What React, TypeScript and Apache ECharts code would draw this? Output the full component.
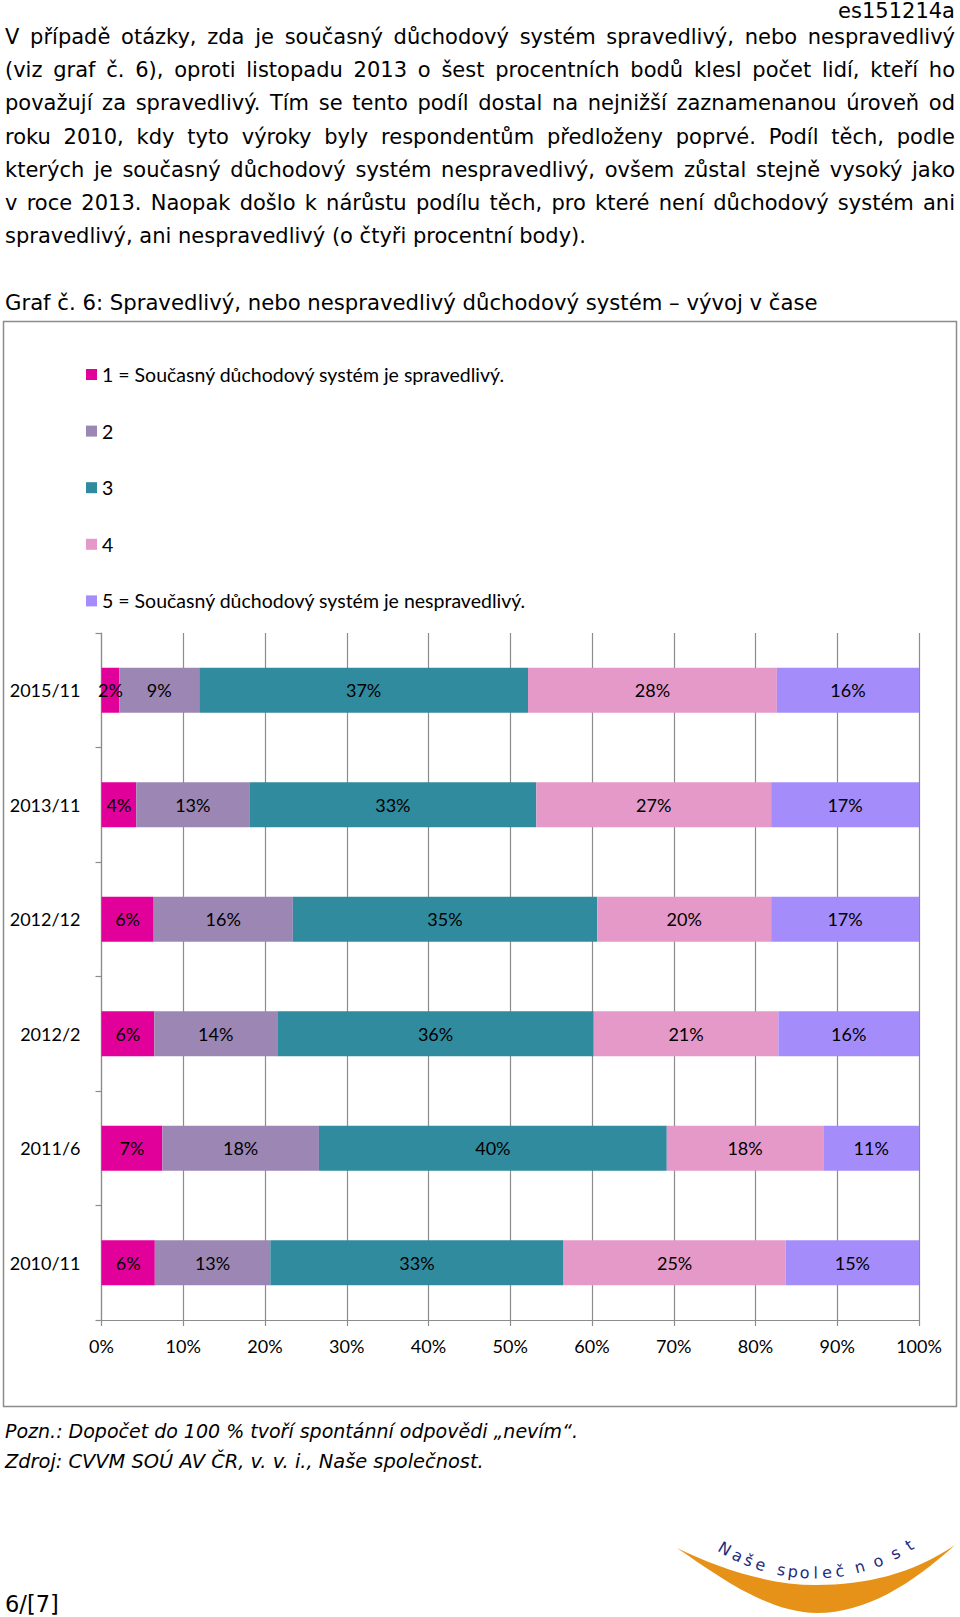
import React, { useEffect, useRef } from "react";
import * as echarts from "echarts";

// ---------- DATA ----------
const categories = ["2015/11", "2013/11", "2012/12", "2012/2", "2011/6", "2010/11"];
const seriesNames = [
  "1 = Současný důchodový systém je spravedlivý.",
  "2",
  "3",
  "4",
  "5 = Současný důchodový systém je nespravedlivý.",
];
const answer1 = [2, 4, 6, 6, 7, 6];
const answer2 = [9, 13, 16, 14, 18, 13];
const answer3 = [37, 33, 35, 36, 40, 33];
const answer4 = [28, 27, 20, 21, 18, 25];
const answer5 = [16, 17, 17, 16, 11, 15];
const xTickValues = [0, 10, 20, 30, 40, 50, 60, 70, 80, 90, 100];

const headerCode = "es151214a";
const bodyLines = [
  "V případě otázky, zda je současný důchodový systém spravedlivý, nebo nespravedlivý",
  "(viz graf č. 6), oproti listopadu 2013 o šest procentních bodů klesl počet lidí, kteří ho",
  "považují za spravedlivý. Tím se tento podíl dostal na nejnižší zaznamenanou úroveň od",
  "roku 2010, kdy tyto výroky byly respondentům předloženy poprvé. Podíl těch, podle",
  "kterých je současný důchodový systém nespravedlivý, ovšem zůstal stejně vysoký jako",
  "v roce 2013. Naopak došlo k nárůstu podílu těch, pro které není důchodový systém ani",
  "spravedlivý, ani nespravedlivý (o čtyři procentní body).",
];
const chartTitle = "Graf č. 6: Spravedlivý, nebo nespravedlivý důchodový systém – vývoj v čase";
const noteLine = "Pozn.: Dopočet do 100 % tvoří spontánní odpovědi „nevím“.";
const sourceLine = "Zdroj: CVVM SOÚ AV ČR, v. v. i., Naše společnost.";
const pageNumber = "6/[7]";
const logoText = "Naše společnost";

// ---------- STYLE ----------
const colors = ["#E2009A", "#9B86B4", "#318B9E", "#E499C8", "#A48CFA"];
const gridColor = "#8c8c8c";
const BODY_FONT = "DejaVu Sans";
const CHART_FONT = "Lato";

const LOGO_D =
  "M 1 4 C 42 32 92 69 141 69 C 190 69 236 40 279 1 C 236 30 190 41 140 41 C 92 41 42 24 1 4 Z";

export default function App() {
  const ref = useRef<HTMLDivElement>(null);

  useEffect(() => {
    if (!ref.current) return;
    try {
      echarts.graphic.registerShape("logo", echarts.graphic.extendPath(LOGO_D, {}) as any);
    } catch (e) {}
    const chart = echarts.init(ref.current, null, { renderer: "svg" });

    const canvas = document.createElement("canvas");
    const ctx = canvas.getContext("2d")!;
    const measure = (s: string, size: number) => {
      ctx.font = `${size}px "${BODY_FONT}"`;
      return ctx.measureText(s).width;
    };

    const textEl = (text: string, x: number, y: number, size: number, extra: any = {}) => ({
      type: "text",
      x,
      y,
      silent: true,
      style: {
        text,
        fontFamily: BODY_FONT,
        fontSize: size,
        fill: "#000",
        textAlign: extra.align || "left",
        align: extra.align || "left",
        textVerticalAlign: "middle",
        verticalAlign: "middle",
        fontStyle: extra.fontStyle || "normal",
      },
    });

    const graphics: any[] = [];
    graphics.push(textEl(headerCode, 955, 11, 21, { align: "right" }));

    // justified paragraph
    const bodySize = 21;
    const left = 5;
    const right = 955;
    bodyLines.forEach((line, i) => {
      const y = 37 + i * 33.17;
      if (i === bodyLines.length - 1) {
        graphics.push(textEl(line, left, y, bodySize));
        return;
      }
      const words = line.split(" ");
      const widths = words.map((w) => measure(w, bodySize));
      const total = widths.reduce((a, b) => a + b, 0);
      const gap = (right - left - total) / (words.length - 1);
      let x = left;
      words.forEach((w, j) => {
        graphics.push(textEl(w, x, y, bodySize));
        x += widths[j] + gap;
      });
    });

    graphics.push(textEl(chartTitle, 5, 302, 21.2));
    graphics.push(textEl(noteLine, 5, 1431, 19, { fontStyle: "italic" }));
    graphics.push(textEl(sourceLine, 5, 1461, 19.4, { fontStyle: "italic" }));
    graphics.push(textEl(pageNumber, 5, 1604, 22.5));

    // chart frame
    graphics.push({
      type: "rect",
      silent: true,
      z: -1,
      shape: { x: 3.5, y: 321.5, width: 953, height: 1085 },
      style: { fill: "none", stroke: gridColor, lineWidth: 1.5 },
    });

    // logo
    graphics.push({
      type: "logo",
      x: 676,
      y: 1544,
      silent: true,
      style: { fill: "#E69219", stroke: "none" },
    });
    const angles = [-30.3, -25.6, -21.7, -17.6, null, -10.6, -6.8, -3.0, 0.5, 4.2, 8.4, 15.0, 21.2, 27.4, 32.6];
    const cx = 814;
    const cy = 1396;
    const R = 177;
    logoText.split("").forEach((ch, k) => {
      const a = angles[k];
      if (a === null || ch === " ") return;
      const rad = (a * Math.PI) / 180;
      graphics.push({
        type: "text",
        silent: true,
        x: cx + R * Math.sin(rad),
        y: cy + R * Math.cos(rad),
        rotation: rad,
        style: {
          text: ch,
          fontFamily: BODY_FONT,
          fontSize: 16,
          fill: "#232a7c",
          textAlign: "center",
          align: "center",
          textVerticalAlign: "middle",
          verticalAlign: "middle",
        },
      });
    });

    const raw = [answer1, answer2, answer3, answer4, answer5];
    const totals = categories.map((_, i) => raw.reduce((s, arr) => s + arr[i], 0));

    const series = raw.map((arr, k) => ({
      name: seriesNames[k],
      type: "bar",
      stack: "total",
      barWidth: 45,
      data: arr.map((v, i) => (v / totals[i]) * 100),
      itemStyle: { color: colors[k] },
      emphasis: { disabled: true },
      label: {
        show: true,
        position: "inside",
        formatter: (p: any) => `${arr[p.dataIndex]}%`,
        fontFamily: CHART_FONT,
        fontSize: 18,
        color: "#000",
        textBorderWidth: 0,
      },
    }));

    chart.setOption({
      animation: false,
      backgroundColor: "#fff",
      color: colors,
      textStyle: { fontFamily: CHART_FONT },
      legend: {
        orient: "vertical",
        left: 86,
        top: 363.5,
        padding: 0,
        icon: "rect",
        itemWidth: 11,
        itemHeight: 11,
        itemGap: 34.6,
        selectedMode: false,
        data: seriesNames,
        textStyle: { fontFamily: CHART_FONT, fontSize: 19.5, color: "#000", lineHeight: 22 },
      },
      grid: { left: 101.5, right: 41, top: 633, bottom: 297, containLabel: false, outerBoundsMode: "none" },
      xAxis: {
        type: "value",
        min: xTickValues[0],
        max: xTickValues[xTickValues.length - 1],
        interval: xTickValues[1] - xTickValues[0],
        axisLine: { show: true, lineStyle: { color: gridColor, width: 1.2 } },
        axisTick: { show: true, length: 6, lineStyle: { color: gridColor, width: 1.2 } },
        splitLine: { show: true, lineStyle: { color: gridColor, width: 1.2 } },
        axisLabel: {
          formatter: "{value}%",
          fontFamily: CHART_FONT,
          fontSize: 18,
          color: "#000",
          margin: 17,
        },
      },
      yAxis: {
        type: "category",
        data: categories,
        inverse: true,
        axisLine: { show: true, lineStyle: { color: gridColor, width: 1.2 } },
        axisTick: { show: true, length: 6, lineStyle: { color: gridColor, width: 1.2 } },
        axisLabel: { fontFamily: CHART_FONT, fontSize: 18, color: "#000", margin: 21 },
      },
      series,
      graphic: { elements: graphics },
    });

    return () => chart.dispose();
  }, []);

  return (
    <div
      ref={ref}
      style={{ position: "absolute", left: 0, top: 0, width: 960, height: 1617, background: "#fff" }}
    />
  );
}
